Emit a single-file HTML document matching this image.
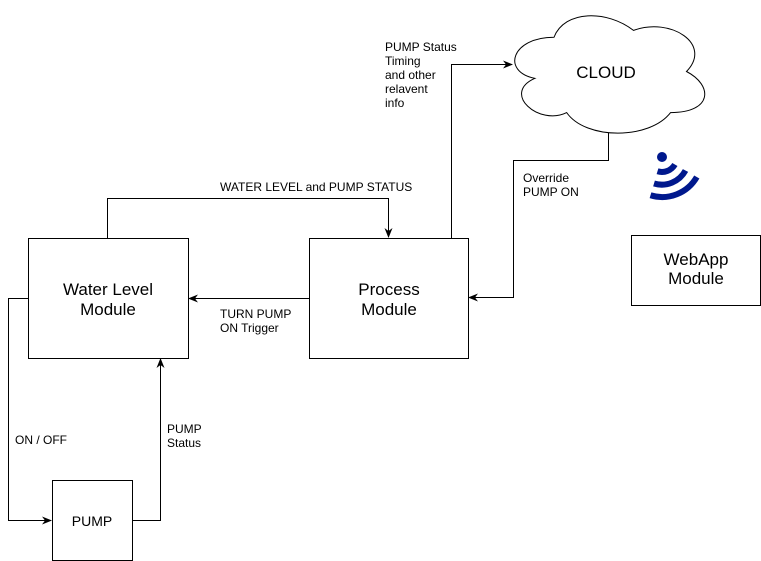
<!DOCTYPE html>
<html><head><meta charset="utf-8"><style>
html,body{margin:0;padding:0;background:#fff;}
svg{display:block;font-family:"Liberation Sans",Arial,sans-serif;}
</style></head><body>
<svg width="761" height="561" viewBox="0 0 761 561" xmlns="http://www.w3.org/2000/svg">
<defs><marker id="a" markerWidth="10" markerHeight="8" refX="9" refY="4" orient="auto" markerUnits="userSpaceOnUse"><path d="M0,0 L10,4 L0,8 L3,4 Z" fill="#000"/></marker></defs>
<g fill="#fff" stroke="#000" stroke-width="1">
<rect x="28.5" y="238.5" width="160" height="120"/>
<rect x="309.5" y="238.5" width="159" height="120"/>
<rect x="631.5" y="235.5" width="129" height="70"/>
<rect x="52.5" y="480.5" width="80" height="80"/>
<path d="M554,37.25 C511.6,37.25 501,71.5 534.9,78.35 C501,93.4 539.2,126.3 566.7,112.6 C585.8,140 649.4,140 670.6,112.6 C713,112.6 713,85.2 686.5,71.5 C713,44.1 670.6,16.7 633.5,30.4 C607,9.85 564.6,9.85 554,37.25 Z"/>
</g>
<g fill="none" stroke="#000" stroke-width="1">
<path d="M107.5,238 V198.5 H388.5 V237" marker-end="url(#a)"/>
<path d="M309,298.5 H189" marker-end="url(#a)"/>
<path d="M451.5,238 V64.5 H512" marker-end="url(#a)"/>
<path d="M608.5,133 V160.5 H513.5 V297.5 H469" marker-end="url(#a)"/>
<path d="M28,298.5 H8.5 V520.5 H51" marker-end="url(#a)"/>
<path d="M132,520.5 H160.5 V359" marker-end="url(#a)"/>
</g>
<g fill="none" stroke="#00188D" stroke-width="6">
<circle cx="662" cy="157" r="5" fill="#00188D" stroke="none"/>
<path d="M657.5,171.3 A15,15 0 0 0 674.9,164.5"/>
<path d="M654,183.5 A27,27 0 0 0 685.5,170.5"/>
<path d="M650.5,195.3 A40,40 0 0 0 696.8,177"/>
</g>
<g font-size="17" text-anchor="middle" fill="#000">
<text x="108" y="295">Water Level</text><text x="108" y="315">Module</text>
<text x="389" y="295">Process</text><text x="389" y="315">Module</text>
<text x="696" y="265">WebApp</text><text x="696" y="284">Module</text>
<text x="606" y="78">CLOUD</text>
</g>
<text x="92" y="526" font-size="14" text-anchor="middle">PUMP</text>
<g font-size="12" fill="#000">
<text x="220" y="191">WATER LEVEL and PUMP STATUS</text>
<text x="220" y="318">TURN PUMP</text><text x="220" y="332">ON Trigger</text>
<text x="385" y="51">PUMP Status</text><text x="385" y="65">Timing</text><text x="385" y="79">and other</text><text x="385" y="93">relavent</text><text x="385" y="107">info</text>
<text x="523" y="182">Override</text><text x="523" y="196">PUMP ON</text>
<text x="15" y="444">ON / OFF</text>
<text x="167" y="433">PUMP</text><text x="167" y="447">Status</text>
</g>
</svg>
</body></html>
